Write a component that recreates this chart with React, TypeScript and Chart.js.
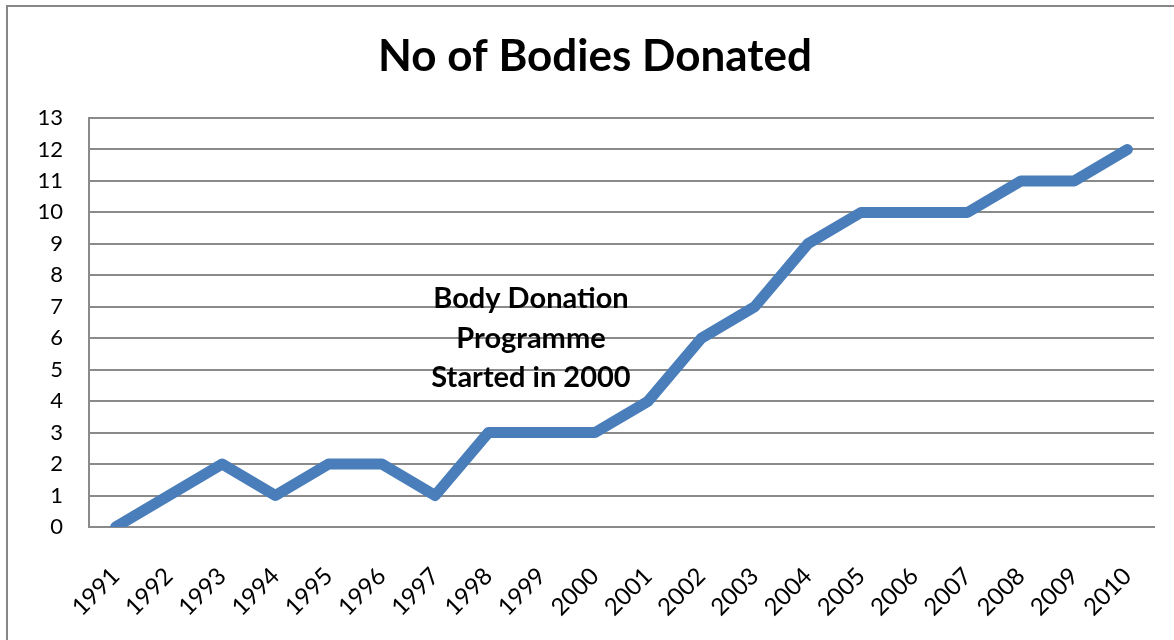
import React, { useEffect, useRef } from "react";
import { Chart, registerables } from "chart.js";

Chart.register(...registerables);

const years = ["1991","1992","1993","1994","1995","1996","1997","1998","1999","2000","2001","2002","2003","2004","2005","2006","2007","2008","2009","2010"];
const bodiesDonated = [0,1,2,1,2,2,1,3,3,3,4,6,7,9,10,10,10,11,11,12];
const yTicks = [0,1,2,3,4,5,6,7,8,9,10,11,12,13];
const titleText = "No of Bodies Donated";
const noteLines = ["Body Donation", "Programme", "Started in 2000"];

const FONT = "Lato, 'Open Sans', 'Liberation Sans', sans-serif";
const GRID = "#8a8a8a";

const framePlugin = {
  id: "frame",
  beforeDraw(chart: any) {
    const ctx = chart.ctx;
    ctx.save();
    ctx.strokeStyle = "#878787";
    ctx.lineWidth = 2;
    ctx.beginPath();
    ctx.moveTo(7, 640);
    ctx.lineTo(7, 6);
    ctx.lineTo(1174, 6);
    ctx.stroke();
    ctx.restore();
  },
};

const notePlugin = {
  id: "note",
  afterDatasetsDraw(chart: any) {
    const ctx = chart.ctx;
    const xs = chart.scales.x;
    const ys = chart.scales.y;
    const cx = xs.getPixelForValue(7.8);
    const centers = [7.25, 6.0, 4.75];
    ctx.save();
    ctx.fillStyle = "#000";
    ctx.font = `bold 29px ${FONT}`;
    ctx.textAlign = "center";
    ctx.textBaseline = "middle";
    noteLines.forEach((t, i) => {
      ctx.fillText(t, cx, ys.getPixelForValue(centers[i]));
    });
    ctx.restore();
  },
};

export default function App() {
  const ref = useRef<HTMLCanvasElement | null>(null);
  useEffect(() => {
    if (!ref.current) return;
    const chart = new Chart(ref.current, {
      type: "line",
      data: {
        labels: years,
        datasets: [
          {
            data: bodiesDonated,
            borderColor: "#4a7ebb",
            backgroundColor: "#4a7ebb",
            borderWidth: 11,
            borderCapStyle: "round",
            borderJoinStyle: "round",
            pointRadius: 0,
            tension: 0,
            clip: { left: 10, top: 10, right: 10, bottom: 0 } as any,
          },
        ],
      },
      options: {
        animation: false,
        responsive: false,
        layout: { padding: { top: 5, left: 36, right: 20, bottom: 0 } },
        plugins: {
          legend: { display: false },
          tooltip: { enabled: false },
          title: {
            display: true,
            text: titleText,
            color: "#000",
            font: { family: FONT, size: 44, weight: "bold", lineHeight: 1.2 },
            padding: { top: 25.6, bottom: 34.6 },
          },
        },
        scales: {
          x: {
            offset: true,
            grid: { display: false, drawTicks: false },
            border: { display: true, color: GRID, width: 2 },
            ticks: {
              color: "#000",
              font: { family: FONT, size: 24 },
              maxRotation: 45,
              minRotation: 45,
              padding: 35,
              autoSkip: false,
            },
            afterFit(scale: any) {
              scale.height = 113;
              scale.paddingLeft = 0;
              scale.paddingRight = 0;
            },
          },
          y: {
            min: 0,
            max: 13,
            afterBuildTicks(scale: any) {
              scale.ticks = yTicks.map((v) => ({ value: v }));
            },
            grid: { color: GRID, lineWidth: 2, drawTicks: false },
            border: { display: true, color: GRID, width: 2 },
            ticks: {
              color: "#000",
              font: { family: FONT, size: 22 },
              padding: 26,
            },
            afterFit(scale: any) {
              scale.width = 53;
              scale.paddingTop = 0;
              scale.paddingBottom = 0;
            },
          },
        },
      },
      plugins: [framePlugin, notePlugin],
    });
    return () => chart.destroy();
  }, []);
  return (
    <div style={{ position: "fixed", left: 0, top: 0, width: 1174, height: 640, background: "#fff" }}>
      <canvas ref={ref} width={1174} height={640} style={{ display: "block" }} />
    </div>
  );
}
